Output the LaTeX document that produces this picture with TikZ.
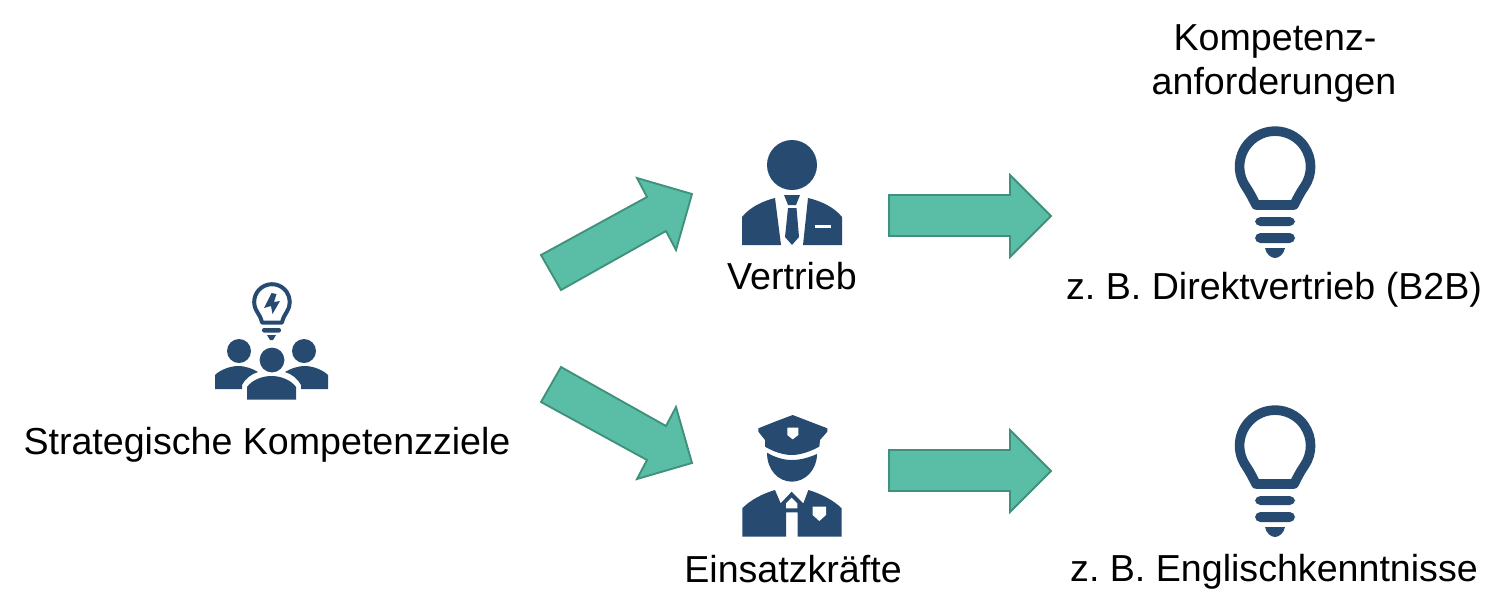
\documentclass[tikz,border=0pt]{standalone}
\usepackage{fontspec}
\setmainfont{Liberation Sans}
\definecolor{ink}{HTML}{264A70}
\definecolor{arrowfill}{HTML}{5ABDA5}
\definecolor{arrowline}{HTML}{3F917C}
\tikzset{
  label/.style={font=\fontsize{28.2}{34}\selectfont\frenchspacing,text=black,anchor=base,inner sep=0pt,outer sep=0pt},
  block/.style={fill=arrowfill,draw=arrowline,line width=1.4pt,line join=miter},
  dark/.style={fill=ink,draw=none},
  gap/.style={fill=white,draw=none},
  bulbicon/.pic={
    \draw[ink,line width=7.2pt,line join=round] (-19,38) .. controls (-22,32) and (-25,26) .. (-29,20) arc[start angle=145,end angle=395,radius=35.5] .. controls (25,26) and (22,32) .. (19,38) -- cycle;
    \fill[dark,rounded corners=4pt] (-20,50) rectangle (20,59);
    \fill[dark,rounded corners=4pt] (-20,66) rectangle (20,76);
    \fill[dark] (-10,81) -- (10,81) .. controls (9,87) and (4,91) .. (0,91) .. controls (-4,91) and (-9,87) .. (-10,81) -- cycle;
  }
}
\begin{document}
\begin{tikzpicture}[x=0.75pt,y=-0.75pt]
\useasboundingbox (0,0) rectangle (1506,615);
% block arrows
\draw[block] (541,255) -- (647,197) -- (637,178) -- (692,194) -- (676,250) -- (666,231) -- (561,290) -- cycle;
\draw[block] (541,402) -- (647,460) -- (637,479) -- (692,463) -- (676,407) -- (666,426) -- (561,367) -- cycle;
\draw[block] (889,195) -- (1010,195) -- (1010,175) -- (1051,216) -- (1010,257) -- (1010,236) -- (889,236) -- cycle;
\draw[block] (889,450) -- (1010,450) -- (1010,430) -- (1051,471) -- (1010,512) -- (1010,491) -- (889,491) -- cycle;
% group icon: small bulb
\draw[ink,line width=3pt,line join=round] (262,322.5) .. controls (261,318) and (259.5,315.5) .. (257.4,312.2) arc[start angle=145,end angle=395,radius=17.8] .. controls (284.5,315.5) and (283,318) .. (282,322.5) -- cycle;
\fill[dark] (271.5,293) -- (264,308) -- (271,306) -- (272.5,314) -- (280,301) -- (274,302) -- (276.5,294) -- cycle;
\fill[dark,rounded corners=1.5pt] (262,328) rectangle (281,332.5);
\fill[dark] (267,335) -- (276,335) -- (273,340) -- (270,340) -- cycle;
% group icon: people
\fill[dark] (239,351) circle[radius=12];
\fill[dark] (304,351) circle[radius=12];
\fill[dark] (272,360) circle[radius=12.4];
\fill[dark] (215,389) -- (215,375) .. controls (220,370) and (230,366) .. (238,366) .. controls (246,366) and (253,369) .. (258,372) .. controls (251,374) and (245,379) .. (242,385) -- (242,389) -- cycle;
\fill[dark] (328,389) -- (328,375) .. controls (323,370) and (313,366) .. (305,366) .. controls (297,366) and (290,369) .. (285,372) .. controls (292,374) and (298,379) .. (301,385) -- (301,389) -- cycle;
\fill[dark] (247,399.5) -- (247,387) .. controls (252,380) and (262,376) .. (271.5,376) .. controls (281,376) and (291,380) .. (296,387) -- (296,399.5) -- cycle;
% suit person
\fill[dark] (792,165) circle[radius=25];
\fill[dark] (742,245) -- (742,217) .. controls (750,207) and (763,201) .. (775,198) -- (781,245) -- cycle;
\fill[dark] (842,245) -- (842,217) .. controls (834,207) and (821,201) .. (808,198) -- (803,245) -- cycle;
\fill[gap] (815,225) rectangle (831,228);
\fill[dark] (784,195) -- (800,195) -- (796,205) -- (788,205) -- cycle;
\fill[dark] (788,208) -- (796.5,208) -- (799,237) -- (792,245) -- (785,237) -- cycle;
% police officer
\begin{scope}[shift={(720,405)},x=0.25pt,y=-0.25pt]
\fill[dark] (115,70) -- (165,50) -- (218,30) -- (270,50) -- (322,70) -- (322,80) -- (300,105) -- (298,125) .. controls (270,140) and (240,150) .. (216,150) .. controls (190,150) and (160,140) .. (135,125) -- (135,105) -- (115,80) -- cycle;
\fill[gap] (202,68) -- (235,68) -- (235,90) -- (218,103) -- (202,90) -- cycle;
\fill[dark] (141,143) .. controls (165,157) and (190,165) .. (216,165) .. controls (242,165) and (268,157) .. (291,147) .. controls (291,195) and (255,230) .. (216,230) .. controls (175,230) and (141,195) .. (141,143) -- cycle;
\fill[dark] (67,395) -- (67,310) .. controls (90,285) and (130,265) .. (165,255) -- (182,295) -- (215,260) -- (250,295) -- (265,255) .. controls (300,265) and (340,285) .. (365,310) -- (365,395) -- (233,395) -- (233,322) -- (198,322) -- (198,395) -- cycle;
\fill[gap] (215,278) -- (232,295) -- (232,310) -- (198,310) -- (198,295) -- cycle;
\fill[gap] (278,305) -- (318,305) -- (318,330) -- (298,348) -- (278,330) -- cycle;
\end{scope}
% large bulbs
\pic at (1275,167) {bulbicon};
\pic at (1275,446) {bulbicon};
% labels
\node[label] (ziele) at (267,454) {Strategische Kompetenzziele};
\node[label] (vertrieb) at (792,289) {Vertrieb};
\node[label] (einsatz) at (793,582) {Einsatzkräfte};
\node[label] (kompa) at (1275,50) {Kompetenz-};
\node[label] (kompb) at (1274,94) {anforderungen};
\node[label] (direkt) at (1274,299) {z. B. Direktvertrieb (B2B)};
\node[label] (englisch) at (1274,581) {z. B. Englischkenntnisse};
\end{tikzpicture}
\end{document}
